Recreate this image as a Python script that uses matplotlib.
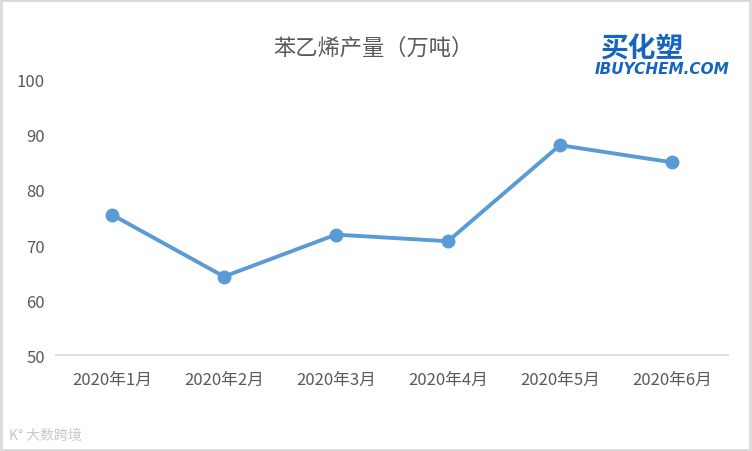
# 苯乙烯产量 line chart, 2020 Jan-Jun
import matplotlib
matplotlib.use('Agg')
import matplotlib.pyplot as plt
from matplotlib.patches import Rectangle

plt.rcParams['font.family'] = ['Noto Sans CJK SC', 'DejaVu Sans']

months = ['2020年1月', '2020年2月', '2020年3月', '2020年4月', '2020年5月', '2020年6月']
output = [75.5, 64.3, 71.9, 70.7, 88.1, 85.0]
y_ticks = [50, 60, 70, 80, 90, 100]

text_color = '#595959'
line_color = '#5B9BD5'

fig = plt.figure(figsize=(7.52, 4.52), dpi=100)
ax = fig.add_axes([0.0745, 0.2113, 0.8935, 0.6106])

x = range(len(months))
ax.plot(x, output, color=line_color, linewidth=2.8, marker='o', markersize=9,
        solid_capstyle='round', zorder=3)

ax.set_xlim(-0.5, len(months) - 0.5)
ax.set_ylim(50, 100)
ax.set_yticks(y_ticks)
ax.set_xticks(list(x))
ax.set_xticklabels(months)
ax.tick_params(axis='both', length=0, labelsize=12, colors=text_color)
ax.tick_params(axis='x', pad=11)
ax.tick_params(axis='y', pad=8)

for side in ['top', 'right', 'left']:
    ax.spines[side].set_visible(False)
ax.spines['bottom'].set_color('#d9d9d9')
ax.spines['bottom'].set_linewidth(1.3)

fig.text(0.497, 0.893, '苯乙烯产量（万吨）', ha='center', va='center',
         fontsize=16, color=text_color)

# logo in top-right corner
fig.text(0.855, 0.891, '买化塑', ha='center', va='center', fontsize=20,
         fontweight='bold', style='italic', color='#1565c0')
fig.text(0.880, 0.846, 'IBUYCHEM.COM', ha='center', va='center', fontsize=11,
         fontweight='heavy', style='italic', color='#1565c0', family='DejaVu Sans')

# watermark bottom-left
fig.text(0.012, 0.035, 'K° 大数跨境', ha='left', va='center', fontsize=10,
         color='#c8c8c8')

# light frame around the whole picture
fig.patches.append(Rectangle((0.001, 0.002), 0.997, 0.995, transform=fig.transFigure,
                             fill=False, edgecolor='#d9d9d9', linewidth=2))

fig.savefig('out.png', dpi=100)
